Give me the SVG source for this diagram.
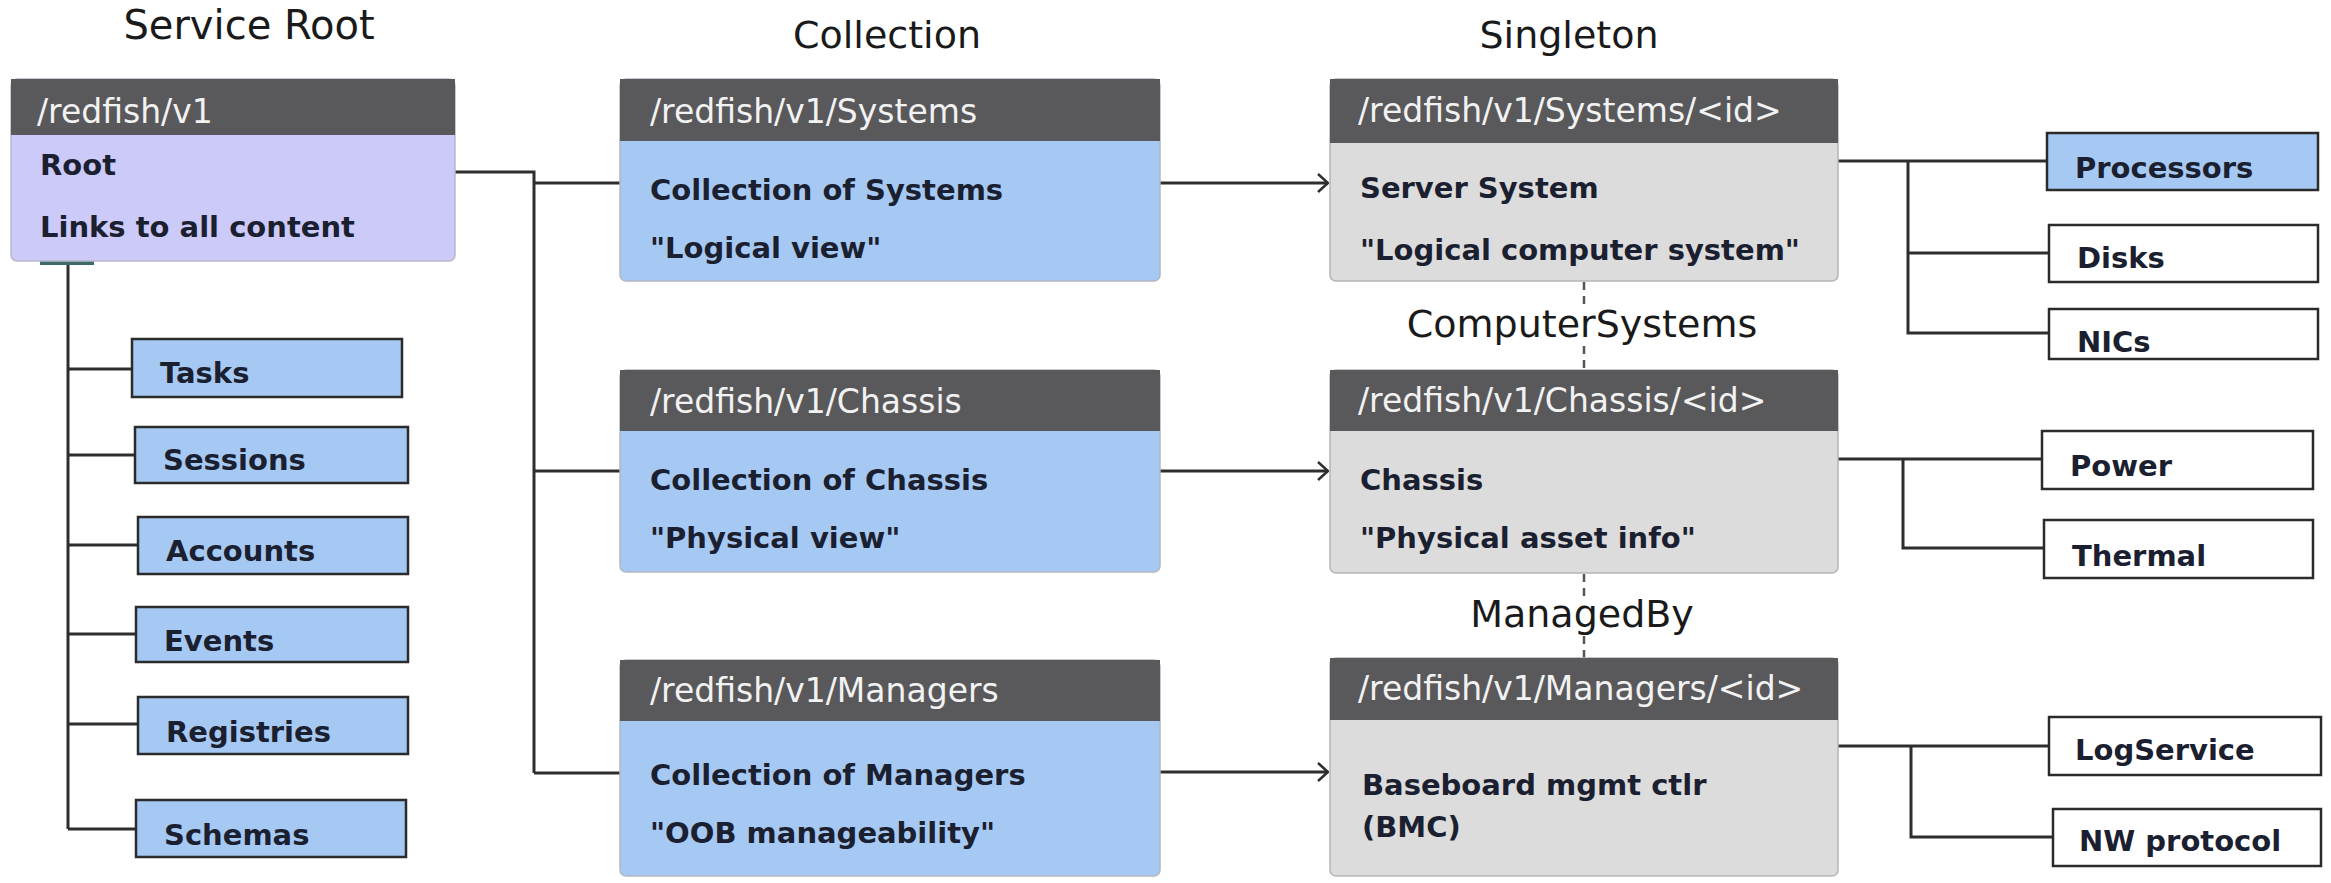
<svg xmlns="http://www.w3.org/2000/svg" width="2331" height="883" viewBox="0 0 2331 883">
<defs>
<style>
.title{font-family:"DejaVu Sans","Liberation Sans",sans-serif;font-size:38px;fill:#1a1a1a}
.hdr{fill:#59595b}
.hdrt{font-family:"DejaVu Sans","Liberation Sans",sans-serif;font-size:33px;fill:#f2f2f2}
.body{font-family:"DejaVu Sans","Liberation Sans",sans-serif;font-weight:bold;font-size:29px;fill:#1b2030}
.root{fill:#cbcaf9;stroke:#b8b8c8;stroke-width:1.5}
.coll{fill:#a6c9f3;stroke:#b0b8c4;stroke-width:1.5}
.single{fill:#dcdcdc;stroke:#b5b5b5;stroke-width:1.5}
.sub{fill:#a6c9f3;stroke:#2b2b2b;stroke-width:2.5}
.subw{fill:#ffffff;stroke:#2b2b2b;stroke-width:2.5}
.conn{stroke:#2e2e2e;stroke-width:3;fill:none}
.dash{stroke:#555;stroke-width:2.5;fill:none;stroke-dasharray:8 6}
</style>
<marker id="arr" viewBox="0 0 12 20" refX="11" refY="10" markerWidth="12" markerHeight="20" markerUnits="userSpaceOnUse" orient="auto">
<path d="M1,1 L11,10 L1,19" fill="none" stroke="#2e2e2e" stroke-width="2.5"/>
</marker>
</defs>
<rect width="2331" height="883" fill="#ffffff"/>

<g id="titles">
<text class="title" x="249" y="39" text-anchor="middle" style="font-size:40px">Service Root</text>
<text class="title" x="887" y="48" text-anchor="middle">Collection</text>
<text class="title" x="1569" y="48" text-anchor="middle">Singleton</text>
</g>

<g id="connectors">
<polyline class="conn" points="455,172 534,172 534,773"/>
<line class="conn" x1="534" y1="183" x2="620" y2="183"/>
<line class="conn" x1="534" y1="471" x2="620" y2="471"/>
<line class="conn" x1="534" y1="773" x2="620" y2="773"/>
<line class="conn" x1="68" y1="261" x2="68" y2="829"/>
<line class="conn" x1="68" y1="369" x2="132" y2="369"/>
<line class="conn" x1="68" y1="455" x2="135" y2="455"/>
<line class="conn" x1="68" y1="545" x2="138" y2="545"/>
<line class="conn" x1="68" y1="634" x2="136" y2="634"/>
<line class="conn" x1="68" y1="724" x2="138" y2="724"/>
<line class="conn" x1="68" y1="829" x2="136" y2="829"/>
<rect x="40" y="261" width="54" height="4" fill="#3f6a6a"/>
<line class="conn" x1="1160" y1="183" x2="1328" y2="183" marker-end="url(#arr)"/>
<line class="conn" x1="1160" y1="471" x2="1328" y2="471" marker-end="url(#arr)"/>
<line class="conn" x1="1160" y1="772" x2="1328" y2="772" marker-end="url(#arr)"/>
<line class="conn" x1="1838" y1="161" x2="2047" y2="161"/>
<polyline class="conn" points="1908,161 1908,333 2049,333"/>
<line class="conn" x1="1908" y1="253" x2="2049" y2="253"/>
<line class="conn" x1="1838" y1="459" x2="2042" y2="459"/>
<polyline class="conn" points="1903,459 1903,548 2044,548"/>
<line class="conn" x1="1838" y1="746" x2="2049" y2="746"/>
<polyline class="conn" points="1911,746 1911,837 2053,837"/>
<line class="dash" x1="1584" y1="282" x2="1584" y2="306"/>
<line class="dash" x1="1584" y1="346" x2="1584" y2="370"/>
<line class="dash" x1="1584" y1="574" x2="1584" y2="598"/>
<line class="dash" x1="1584" y1="636" x2="1584" y2="658"/>
<text class="title" x="1582" y="337" text-anchor="middle">ComputerSystems</text>
<text class="title" x="1582" y="627" text-anchor="middle">ManagedBy</text>
</g>

<g id="root">
<rect class="root" x="11" y="79" width="444" height="182" rx="6"/>
<rect class="hdr" x="11" y="79" width="444" height="56"/>
<text class="hdrt" x="37" y="123">/redfish/v1</text>
<text class="body" x="40" y="175">Root</text>
<text class="body" x="40" y="237">Links to all content</text>
</g>

<g id="tasks"><rect class="sub" x="132" y="339" width="270" height="58"/><text class="body" x="160" y="383">Tasks</text></g>
<g id="sessions"><rect class="sub" x="135" y="427" width="273" height="56"/><text class="body" x="163" y="470">Sessions</text></g>
<g id="accounts"><rect class="sub" x="138" y="517" width="270" height="57"/><text class="body" x="166" y="561">Accounts</text></g>
<g id="events"><rect class="sub" x="136" y="607" width="272" height="55"/><text class="body" x="164" y="651">Events</text></g>
<g id="registries"><rect class="sub" x="138" y="697" width="270" height="57"/><text class="body" x="166" y="742">Registries</text></g>
<g id="schemas"><rect class="sub" x="136" y="800" width="270" height="57"/><text class="body" x="164" y="845">Schemas</text></g>

<g id="systems-collection">
<rect class="coll" x="620" y="79" width="540" height="202" rx="6"/>
<rect class="hdr" x="620" y="79" width="540" height="62"/>
<text class="hdrt" x="650" y="123">/redfish/v1/Systems</text>
<text class="body" x="650" y="200">Collection of Systems</text>
<text class="body" x="650" y="258">"Logical view"</text>
</g>
<g id="chassis-collection">
<rect class="coll" x="620" y="370" width="540" height="202" rx="6"/>
<rect class="hdr" x="620" y="370" width="540" height="61"/>
<text class="hdrt" x="650" y="413">/redfish/v1/Chassis</text>
<text class="body" x="650" y="490">Collection of Chassis</text>
<text class="body" x="650" y="548">"Physical view"</text>
</g>
<g id="managers-collection">
<rect class="coll" x="620" y="660" width="540" height="216" rx="6"/>
<rect class="hdr" x="620" y="660" width="540" height="61"/>
<text class="hdrt" x="650" y="702">/redfish/v1/Managers</text>
<text class="body" x="650" y="785">Collection of Managers</text>
<text class="body" x="650" y="843">"OOB manageability"</text>
</g>

<g id="system-singleton">
<rect class="single" x="1330" y="79" width="508" height="202" rx="6"/>
<rect class="hdr" x="1330" y="79" width="508" height="64"/>
<text class="hdrt" x="1358" y="122">/redfish/v1/Systems/&lt;id&gt;</text>
<text class="body" x="1360" y="198">Server System</text>
<text class="body" x="1360" y="260">"Logical computer system"</text>
</g>
<g id="chassis-singleton">
<rect class="single" x="1330" y="370" width="508" height="203" rx="6"/>
<rect class="hdr" x="1330" y="370" width="508" height="61"/>
<text class="hdrt" x="1358" y="412">/redfish/v1/Chassis/&lt;id&gt;</text>
<text class="body" x="1360" y="490">Chassis</text>
<text class="body" x="1360" y="548">"Physical asset info"</text>
</g>
<g id="manager-singleton">
<rect class="single" x="1330" y="658" width="508" height="218" rx="6"/>
<rect class="hdr" x="1330" y="658" width="508" height="62"/>
<text class="hdrt" x="1358" y="700">/redfish/v1/Managers/&lt;id&gt;</text>
<text class="body" x="1362" y="795">Baseboard mgmt ctlr</text>
<text class="body" x="1362" y="837">(BMC)</text>
</g>

<g id="processors"><rect class="sub" x="2047" y="133" width="271" height="57"/><text class="body" x="2075" y="178">Processors</text></g>
<g id="disks"><rect class="subw" x="2049" y="225" width="269" height="57"/><text class="body" x="2077" y="268">Disks</text></g>
<g id="nics"><rect class="subw" x="2049" y="309" width="269" height="50"/><text class="body" x="2077" y="352">NICs</text></g>
<g id="power"><rect class="subw" x="2042" y="431" width="271" height="58"/><text class="body" x="2070" y="476">Power</text></g>
<g id="thermal"><rect class="subw" x="2044" y="520" width="269" height="58"/><text class="body" x="2072" y="566">Thermal</text></g>
<g id="logservice"><rect class="subw" x="2049" y="717" width="272" height="58"/><text class="body" x="2075" y="760">LogService</text></g>
<g id="nwprotocol"><rect class="subw" x="2053" y="809" width="268" height="57"/><text class="body" x="2079" y="851">NW protocol</text></g>
</svg>
